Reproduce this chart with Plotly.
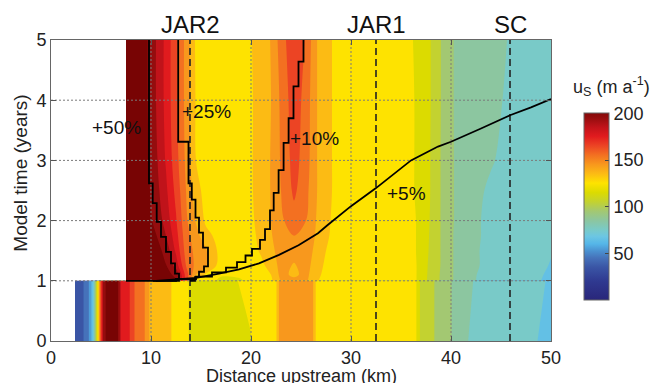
import plotly.graph_objects as go

# ---------------- colour map (value -> colour) ----------------
cmap_vals = [0, 20, 35, 45, 52, 60, 68, 75, 85, 95, 105, 115, 125, 135, 145, 155, 165, 175, 185, 195, 205]
cmap_cols = ["#29267a", "#2f3990", "#3a55a5", "#4672ba", "#4a8fcf", "#55b6e8", "#6cc6e3", "#79cac8",
             "#8cc6a0", "#a3c872", "#c3d230", "#dcdb00", "#fee300", "#fcbb14", "#f8981d", "#f37021",
             "#ec4424", "#e11b1e", "#c0131a", "#940d0e", "#780404"]

# ---------------- initial state (t = 0 .. 1) ----------------
x_low = [2.4, 3.0, 3.7, 4.0, 4.2, 4.45, 4.7, 4.95, 5.2, 5.6, 6.6, 6.85, 7.0, 7.85, 8.35, 9.35, 9.84,
         12.0, 13.8, 14.5, 17.0, 18.5, 20.0, 20.3, 22.5, 22.8, 24.5, 26.2, 26.5, 31.0, 36.5, 36.9,
         38.3, 38.5, 40.0, 40.3, 41.6, 42.3, 48.6, 49.4, 50.0]
t_low = [0.0, 1.0]
u_low_t0 = [32, 36, 47, 58, 68, 95, 125, 160, 190, 205, 205, 193, 179, 170.5, 160, 150.5, 139.8,
            130.2, 119.8, 114, 113, 115, 119.8, 121, 128, 140.5, 145, 140.5, 129, 124, 121, 109.8,
            100.2, 99, 90.2, 89, 80.2, 79, 70.2, 67, 65]
u_low_t1 = [32, 36, 47, 58, 68, 95, 125, 160, 190, 205, 205, 193, 179, 170.5, 160, 150.5, 139.8,
            130.2, 119.8, 115, 114, 119.8, 121.5, 122, 128, 140.5, 145, 140.5, 129, 124, 121, 109.8,
            100.2, 99, 90.2, 89, 81.5, 79.8, 71.5, 70.2, 68]

# ---------------- after retreat (t = 1 .. 5) ----------------
x_up = [7.5, 8.5, 9.5, 10.5, 11.5, 12.5, 13.5, 14.5, 15.5, 17.0, 19.0, 20.0, 21.0, 22.0, 23.0, 24.3,
        25.5, 26.5, 27.5, 29.0, 32.0, 35.0, 36.5, 38.0, 39.0, 40.3, 42.0, 44.0, 46.0, 48.0, 50.0]
t_up = [1.0, 1.1, 1.25, 1.5, 1.75, 2.0, 2.5, 3.0, 4.0, 5.0]
u_up_t100 = [225, 220, 214, 208, 204, 201, 165, 128, 124, 118, 119.5, 122, 125, 128, 141, 143, 142, 131, 127,
             125, 124, 123, 120.5, 106, 99, 89.5, 81, 77, 74, 72, 68]
u_up_t110 = [222, 218, 212, 207, 203, 198, 166, 140, 128, 121, 121, 123, 126, 130, 143, 138, 143, 133, 127,
             125, 124, 123, 120.5, 106.5, 99, 89.5, 81, 77.5, 74.5, 72.5, 68.5]
u_up_t125 = [220, 216, 210, 205, 200.5, 186, 160, 147, 140.5, 125, 123, 125, 128, 133, 144, 139, 144, 135, 128,
             125.5, 124, 123, 120.5, 107, 99.5, 89.5, 81.5, 78, 75, 73, 69.5]
u_up_t150 = [218, 214, 208, 204, 197, 178, 156, 147, 141, 126, 125, 127, 131, 137, 145, 144, 146, 137, 130,
             126, 124.5, 123.5, 120, 108, 99.5, 89.5, 81.5, 78, 75.5, 73.5, 70.5]
u_up_t175 = [217, 213, 206, 200.5, 190, 174, 154, 144, 133, 126, 125, 128, 132, 139, 147, 150, 148, 139, 131,
             126.5, 124.5, 123.5, 120, 108.5, 99.5, 89.5, 81.5, 78.5, 76, 74, 71.5]
u_up_t200 = [216, 212, 205, 197, 186, 171, 152, 139, 128, 125, 125, 128.5, 133, 140, 148, 156, 150, 140, 131.5,
             126.5, 125, 124, 120, 109, 99.5, 90, 81.5, 78.5, 76, 74.5, 72]
u_up_t250 = [215, 211, 204, 194, 182, 167, 150, 134, 126, 124.5, 125, 129, 134, 140.5, 150, 162, 153, 141, 132,
             127, 125, 124, 119.5, 109.5, 99.5, 90, 82, 79, 76.5, 75, 73]
u_up_t300 = [215, 210, 203, 192, 179, 164, 148, 130, 125, 124, 125, 129, 134.5, 140.5, 151, 164, 155, 141, 132,
             127, 125, 124, 119.5, 109.5, 99.5, 90, 82.5, 80.5, 78, 75.5, 73.5]
u_up_t400 = [215, 210, 202, 190, 177, 162, 147, 129, 125, 124, 125, 129, 134, 140, 152, 166, 156, 141, 132,
             127, 125, 124, 119.5, 109.8, 99.8, 89.8, 86.5, 82, 78.5, 76, 74]
u_up_t500 = [215, 210, 202, 190, 177, 162, 147, 128, 125, 124, 125, 129.5, 135, 140.5, 155, 168, 159, 141, 132,
             127, 125, 124, 119, 109.8, 99.8, 89.8, 87, 84, 79, 76, 74]

# ---------------- percentage-change contours ----------------
p50_x = [7.5, 12.8, 12.4, 12.0, 11.5, 11.0, 10.57, 10.17, 9.8]
p50_t = [1.0, 1.12, 1.29, 1.48, 1.73, 1.98, 2.29, 2.62, 5.0]
p25_x = [13.9, 14.4, 14.8, 15.3, 15.7, 15.2, 14.8, 14.45, 14.08, 13.75, 12.72]
p25_t = [1.0, 1.06, 1.15, 1.24, 1.55, 1.8, 2.05, 2.35, 2.62, 3.31, 5.0]
p10_x = [10.2, 12.5, 14.5, 16.1, 17.5, 18.6, 19.45, 20.1, 20.9, 21.4, 21.9, 22.27, 22.76, 23.26,
         23.76, 24.25, 24.75, 25.25]
p10_t = [1.0, 1.03, 1.07, 1.14, 1.22, 1.31, 1.42, 1.53, 1.68, 1.86, 2.17, 2.46, 2.84, 3.29, 3.7,
         4.23, 4.64, 5.0]
p5_x = [10.5, 11.8, 14.5, 16.8, 18.8, 20.8, 22.8, 24.75, 26.7, 27.7, 30.0, 32.5, 34.4, 36.0, 38.7,
        40.0, 43.0, 45.9, 48.0, 50.0]
p5_t = [1.0, 1.02, 1.05, 1.12, 1.19, 1.29, 1.43, 1.59, 1.79, 1.93, 2.24, 2.54, 2.79, 3.0, 3.23,
        3.31, 3.53, 3.75, 3.88, 4.02]

pct_labels = ["+50%", "+25%", "+10%", "+5%"]
pct_lab_x = [6.56, 15.5, 26.3, 35.5]
pct_lab_t = [3.54, 3.81, 3.37, 2.45]

site_names = ["JAR2", "JAR1", "SC"]
site_x = [13.9, 32.5, 45.9]

x_ticks = [0, 10, 20, 30, 40, 50]
y_ticks = [0, 1, 2, 3, 4, 5]
cbar_ticks = [50, 100, 150, 200]

# ---------------- helpers ----------------
FONT = "Liberation Sans, Arial, sans-serif"


def _rgb(h):
    h = h.lstrip("#")
    return [int(h[i:i + 2], 16) for i in (0, 2, 4)]


def colour_at(v):
    if v <= cmap_vals[0]:
        return cmap_cols[0]
    for i in range(1, len(cmap_vals)):
        if v <= cmap_vals[i]:
            f = (v - cmap_vals[i - 1]) / (cmap_vals[i] - cmap_vals[i - 1])
            a, b = _rgb(cmap_cols[i - 1]), _rgb(cmap_cols[i])
            c = [round(a[k] + f * (b[k] - a[k])) for k in range(3)]
            return "rgb(%d,%d,%d)" % tuple(c)
    return cmap_cols[-1]


# contour fill colours are sampled at band centres over [start-size/2, end+size/2]
c_start, c_end, c_size = 0, 200, 10
lo, hi = c_start - c_size / 2, c_end + c_size / 2
cs_contour = [[0.0, colour_at(lo)]] + [[(v - lo) / (hi - lo), c] for v, c in zip(cmap_vals, cmap_cols)
                                       if lo < v < hi] + [[1.0, colour_at(hi)]]
cs_bar = [[v / 200, c] for v, c in zip(cmap_vals, cmap_cols) if v < 200] + [[1.0, colour_at(200)]]

fig = go.Figure()

common = dict(colorscale=cs_contour, autocontour=False,
              contours=dict(start=c_start, end=c_end, size=c_size, coloring="fill", showlines=False),
              line=dict(width=0), showscale=False, hoverinfo="skip")
fig.add_trace(go.Contour(x=x_low, y=t_low, z=[u_low_t0, u_low_t1], **common))
fig.add_trace(go.Contour(x=x_up, y=t_up,
                         z=[u_up_t100, u_up_t110, u_up_t125, u_up_t150, u_up_t175, u_up_t200,
                            u_up_t250, u_up_t300, u_up_t400, u_up_t500], **common))

# dotted grid drawn on top of the field
gx, gy = [], []
for v in x_ticks[1:-1]:
    gx += [v, v, None]
    gy += [y_ticks[0], y_ticks[-1], None]
for v in y_ticks[1:-1]:
    gx += [x_ticks[0], x_ticks[-1], None]
    gy += [v, v, None]
fig.add_trace(go.Scatter(x=gx, y=gy, mode="lines", line=dict(color="#7a7a7a", width=1, dash="2px,2px"),
                         hoverinfo="skip", showlegend=False))

# station lines
sx, sy = [], []
for v in site_x:
    sx += [v, v, None]
    sy += [y_ticks[0], y_ticks[-1], None]
fig.add_trace(go.Scatter(x=sx, y=sy, mode="lines", line=dict(color="#222222", width=1.6, dash="7px,4px"),
                         hoverinfo="skip", showlegend=False))

# percentage contours
for px_, pt_, shp in [(p50_x, p50_t, "hv"), (p25_x, p25_t, "hv"), (p10_x, p10_t, "hv"),
                      (p5_x, p5_t, "linear")]:
    fig.add_trace(go.Scatter(x=px_, y=pt_, mode="lines", line=dict(color="black", width=1.8, shape=shp),
                             hoverinfo="skip", showlegend=False))

# colour bar
fig.add_trace(go.Scatter(
    x=[None], y=[None], mode="markers", showlegend=False, hoverinfo="skip",
    marker=dict(color=[0], cmin=0, cmax=200, colorscale=cs_bar, showscale=True,
                colorbar=dict(thickness=25, thicknessmode="pixels", len=186.5, lenmode="pixels",
                              x=(587 - 51) / 503, xanchor="left", xpad=0,
                              y=(341 - 206.75) / 301, yanchor="middle", ypad=0,
                              outlinewidth=1, outlinecolor="#666666",
                              tickvals=cbar_ticks, ticks="inside", ticklen=4, tickcolor="#444444",
                              tickfont=dict(size=18, color="#222222", family=FONT)))))

ann = []
for name, xv in zip(site_names, site_x):
    ann.append(dict(x=xv, y=(341 - 24.5) / 301, xref="x", yref="paper", text=name, showarrow=False,
                    font=dict(size=24, color="#111111", family=FONT), xanchor="center", yanchor="middle"))
for lab, xv, tv in zip(pct_labels, pct_lab_x, pct_lab_t):
    ann.append(dict(x=xv, y=tv, xref="x", yref="y", text=lab, showarrow=False,
                    font=dict(size=19, color="#111111", family=FONT), xanchor="center", yanchor="middle"))
ann.append(dict(x=25, y=(341 - 376) / 301, xref="x", yref="paper", text="Distance upstream (km)",
                showarrow=False, font=dict(size=18, color="#222222", family=FONT),
                xanchor="center", yanchor="middle"))
ann.append(dict(x=(20 - 51) / 503, y=(341 - 173.5) / 301, xref="paper", yref="paper",
                text="Model time (years)", textangle=-90, showarrow=False,
                font=dict(size=19, color="#222222", family=FONT), xanchor="center", yanchor="middle"))
ann.append(dict(x=(615 - 51) / 503, y=(341 - 86) / 301, xref="paper", yref="paper",
                text="u<sub>S</sub> (m a<sup>-1</sup>)", showarrow=False,
                font=dict(size=18, color="#222222", family=FONT), xanchor="center", yanchor="middle"))

axis_common = dict(ticks="inside", ticklen=5, tickcolor="#555555", mirror="allticks", showline=True,
                   linecolor="#666666", linewidth=1, showgrid=False, zeroline=False,
                   tickfont=dict(size=18, color="#222222", family=FONT))
fig.update_layout(
    width=660, height=383, autosize=False,
    margin=dict(l=51, r=106, t=40, b=42),
    paper_bgcolor="white", plot_bgcolor="white",
    xaxis=dict(range=[0, 50], tickvals=x_ticks, **axis_common),
    yaxis=dict(range=[0, 5], tickvals=y_ticks, **axis_common),
    annotations=ann, showlegend=False,
    font=dict(family=FONT),
)

fig.write_html("out.html")
